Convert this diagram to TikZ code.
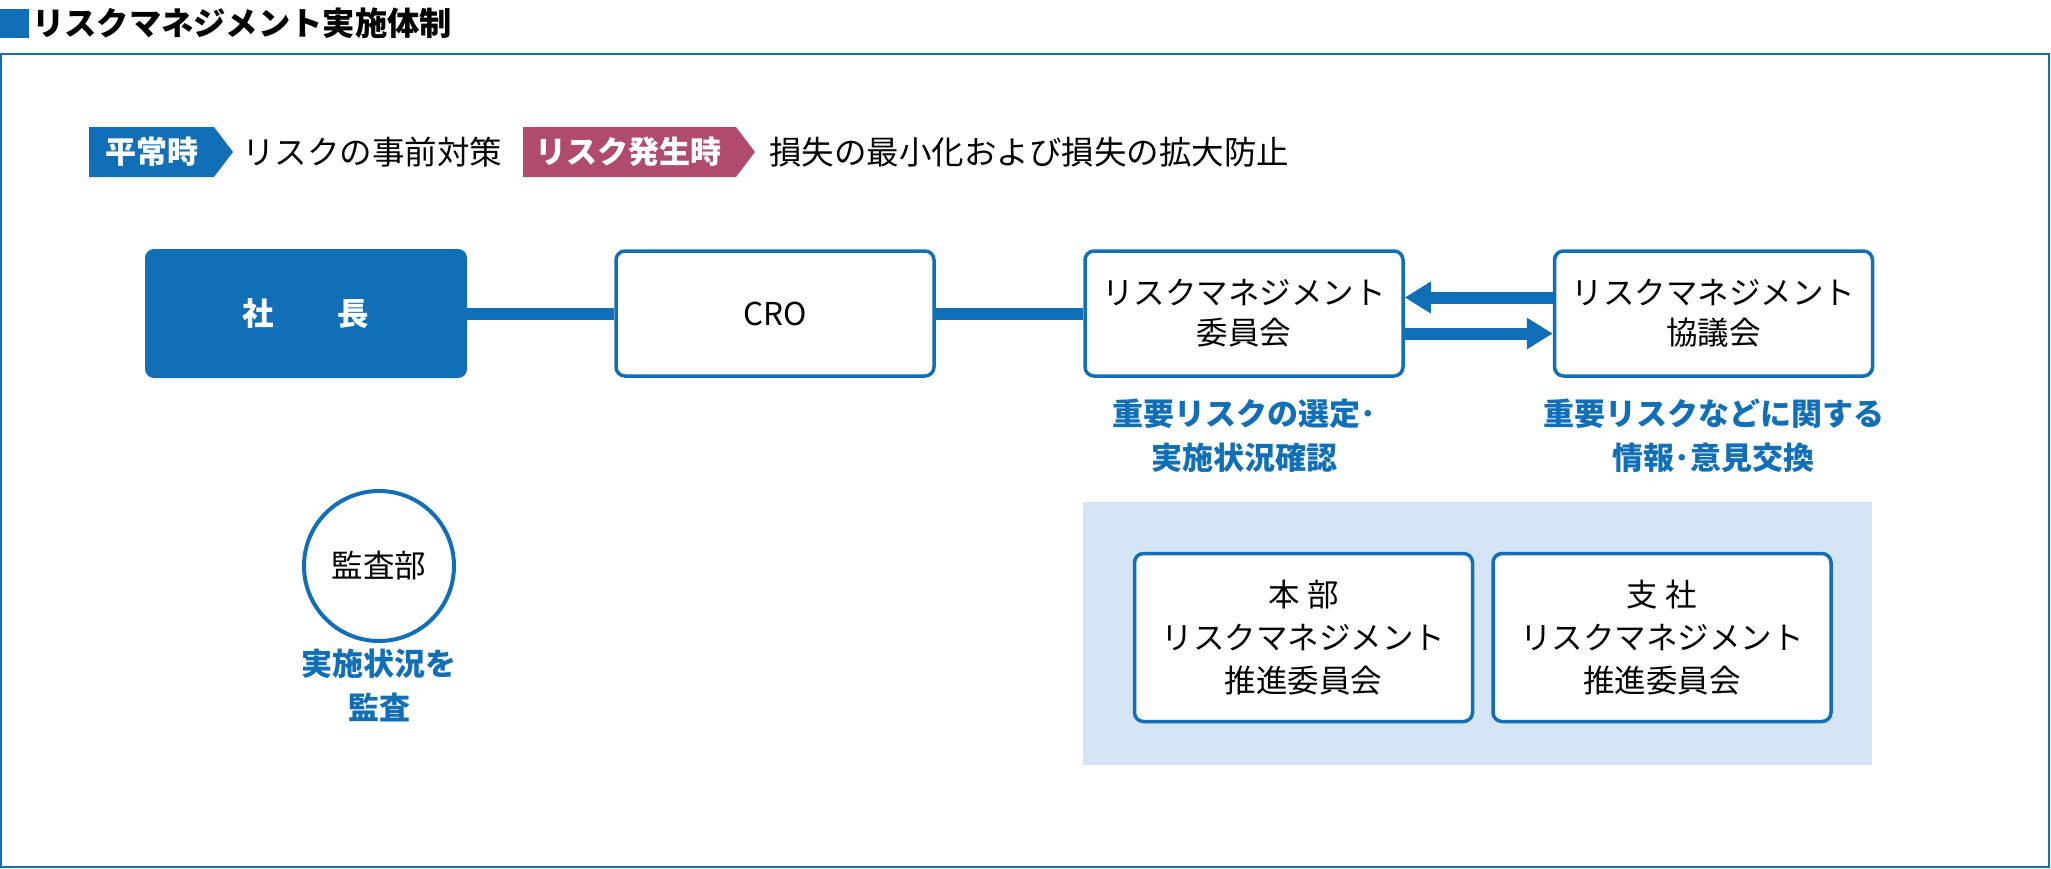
\documentclass[tikz,border=0pt]{standalone}
\usepackage{fontspec}
\setmainfont{Noto Sans CJK JP}
\usetikzlibrary{arrows.meta}

\definecolor{rmblue}{RGB}{17,111,184}
\definecolor{rmpink}{RGB}{176,75,110}
\definecolor{rmpale}{RGB}{213,229,246}

\tikzset{
  headtext/.style={anchor=west, inner sep=0pt, font=\fontsize{32.3}{36}\selectfont\bfseries},
  tagtext/.style={text=white, inner sep=0pt, font=\fontsize{31}{36}\selectfont\bfseries},
  legendtext/.style={anchor=west, inner sep=0pt, font=\fontsize{32.5}{36}\selectfont},
  unitbox/.style={draw=rmblue, line width=3.5pt, rounded corners=9pt, fill=white,
    minimum width=318pt, minimum height=125pt, align=center,
    font=\fontsize{31.5}{40}\selectfont},
  bossbox/.style={fill=rmblue, rounded corners=9pt, minimum width=322pt,
    minimum height=129pt, text=white, font=\fontsize{31.5}{40}\selectfont\bfseries},
  subbox/.style={unitbox, minimum width=338pt, minimum height=168pt,
    font=\fontsize{31.5}{43}\selectfont},
  auditring/.style={circle, draw=rmblue, line width=4pt, minimum size=150pt,
    font=\fontsize{31.5}{40}\selectfont},
  note/.style={text=rmblue, align=center, inner sep=0pt,
    font=\fontsize{31}{44}\selectfont\bfseries},
  link/.style={rmblue, line width=12pt},
  exchange/.style={rmblue, line width=12pt, -{Triangle[length=26pt,width=30pt]}}
}

\begin{document}
\begin{tikzpicture}[x=1pt,y=-1pt]
\useasboundingbox (0,0) rectangle (2051,868);

% heading and frame
\fill[rmblue] (0,9) rectangle (29,38);
\node[headtext] (heading) at (32,23.5) {リスクマネジメント実施体制};
\draw[rmblue, line width=2pt] (1,54) rectangle (2049,867);

% legend
\fill[rmblue] (89,127) -- (214,127) -- (233,152) -- (214,177) -- (89,177) -- cycle;
\node[tagtext] (normal) at (152,152) {平常時};
\node[legendtext] (normaltxt) at (242,152) {リスクの事前対策};
\fill[rmpink] (523,127) -- (736,127) -- (755,152) -- (736,177) -- (523,177) -- cycle;
\node[tagtext] (event) at (628,152) {リスク発生時};
\node[legendtext] (eventtxt) at (769,152) {損失の最小化および損失の拡大防止};

% main row
\node[bossbox] (president) at (306,313.5) {社\hspace{64pt}長};
\node[unitbox] (cro) at (775,313.5) {CRO};
\node[unitbox] (rmc) at (1244,313.5) {リスクマネジメント\\委員会};
\node[unitbox] (council) at (1713.5,313.5) {リスクマネジメント\\協議会};
\draw[link] (president) -- (cro);
\draw[link] (cro) -- (rmc);
\draw[exchange] ([yshift=16pt]council.west) -- ([yshift=16pt]rmc.east);
\draw[exchange] ([yshift=-20pt]rmc.east) -- ([yshift=-20pt]council.west);

\node[note] (rmcnote) at (1244,435.5) {重要リスクの選定･\\実施状況確認};
\node[note] (councilnote) at (1713.5,435.5) {重要リスクなどに関する\\情報･意見交換};

% audit
\node[auditring] (audit) at (379,566) {監査部};
\node[note] (auditnote) at (379,685) {実施状況を\\監査};

% promotion committees
\fill[rmpale] (1083,502) rectangle (1872,765);
\node[subbox] (hq) at (1303.5,637.5) {本\hspace{8pt}部\\リスクマネジメント\\推進委員会};
\node[subbox] (branch) at (1662,637.5) {支\hspace{8pt}社\\リスクマネジメント\\推進委員会};

\end{tikzpicture}
\end{document}
